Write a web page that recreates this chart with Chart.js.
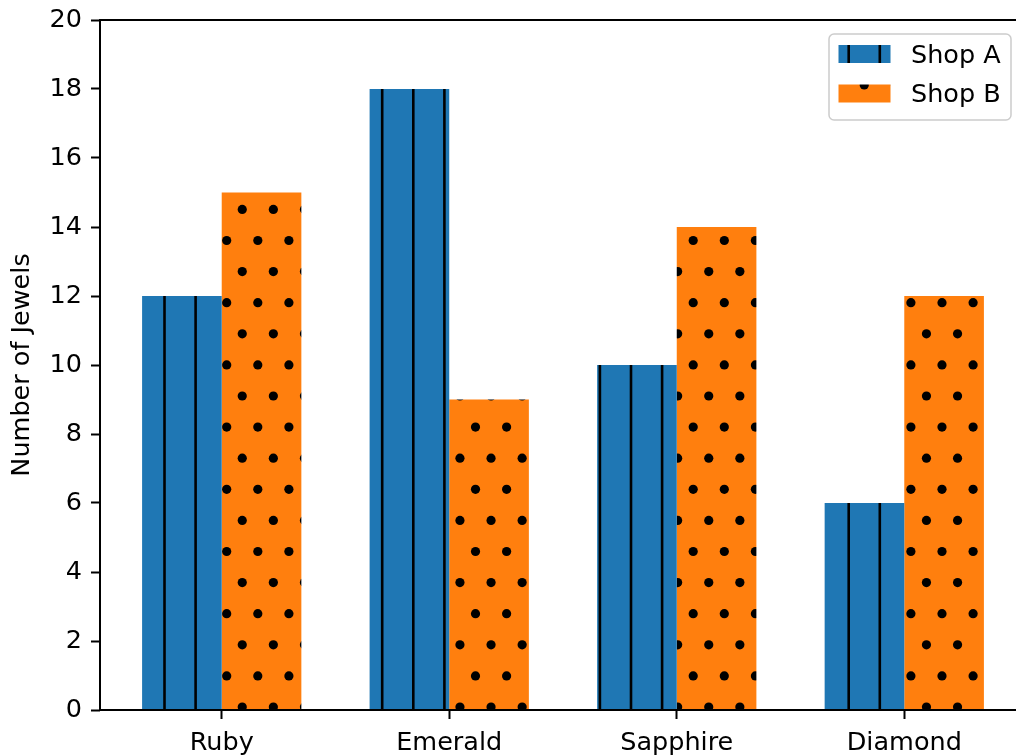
<!DOCTYPE html>
<html>
<head>
<meta charset="utf-8">
<script src="https://cdn.jsdelivr.net/npm/chart.js@4.4.1/dist/chart.umd.min.js"></script>
<style>
  body { margin: 0; background: #fff; }
  #wrap { width: 1016px; height: 756px; overflow: hidden; position: relative; }
  #myChart { position: absolute; left: 0; top: 0; }
</style>
</head>
<body>
<div id="wrap"><canvas id="myChart" width="1030" height="756"></canvas></div>
<script>
// data
const categories = ['Ruby', 'Emerald', 'Sapphire', 'Diamond'];
const seriesNames = ['Shop A', 'Shop B'];
const shopA = [12, 18, 10, 6];
const shopB = [15, 9, 14, 12];
const yTicks = [0, 2, 4, 6, 8, 10, 12, 14, 16, 18, 20];

const FONT = 'DejaVu Sans';
const FSIZE = 25.5;

// hatch tiles, 10 periods of 31.1px so the pattern lines up like matplotlib's
function makeHatch(color, kind) {
    const c = document.createElement('canvas');
    c.width = 311; c.height = 311;
    const g = c.getContext('2d');
    g.fillStyle = color;
    g.fillRect(0, 0, 311, 311);
    g.fillStyle = '#000';
    g.strokeStyle = '#000';
    if (kind === '|') {
        g.lineWidth = 2.6;
        for (let k = 0; k < 10; k++) {
            const x = 9 + k * 31.1;
            g.beginPath(); g.moveTo(x, 0); g.lineTo(x, 311); g.stroke();
        }
    } else {
        for (let j = 0; j < 5; j++) {
            for (let k = 0; k < 10; k++) {
                g.beginPath(); g.arc(9 + k * 31.1, 53.9 + j * 62.2, 4.6, 0, Math.PI * 2); g.fill();
                g.beginPath(); g.arc(24.55 + k * 31.1, 22.8 + j * 62.2, 4.6, 0, Math.PI * 2); g.fill();
            }
        }
    }
    return g.createPattern(c, 'repeat');
}

const ctx = document.querySelector('#myChart').getContext('2d');
const patA = makeHatch('#1f77b4', '|');
const patB = makeHatch('#ff7f0e', '.');

// spines on all four sides, like matplotlib
const spines = {
    id: 'spines',
    afterDatasetsDraw(chart) {
        const a = chart.chartArea, c = chart.ctx;
        c.save();
        c.strokeStyle = '#000';
        c.lineWidth = 2;
        c.strokeRect(a.left, a.top, a.right - a.left, a.bottom - a.top);
        c.restore();
    }
};

// legend box in the upper right corner
const legendBox = {
    id: 'legendBox',
    afterDraw(chart) {
        const a = chart.chartArea, c = chart.ctx;
        const w = 182, h = 86;
        const x = a.right - 15 - w, y = a.top + 14;
        c.save();
        c.beginPath();
        c.roundRect(x, y, w, h, 5);
        c.fillStyle = 'rgba(255,255,255,0.8)';
        c.fill();
        c.strokeStyle = '#cccccc';
        c.lineWidth = 1.5;
        c.stroke();
        chart.data.datasets.forEach(function(ds, i) {
            const cy = y + 20 + i * 39.5;
            c.fillStyle = ds.backgroundColor;
            c.fillRect(x + 9.5, cy - 9, 52, 18);
            c.fillStyle = '#000';
            c.font = FSIZE + 'px "' + FONT + '"';
            c.textBaseline = 'middle';
            c.textAlign = 'left';
            c.fillText(ds.label, x + 82, cy + 2);
        });
        c.restore();
    }
};

const chart = new Chart(ctx, {
    type: 'bar',
    data: {
        datasets: [
            {
                label: seriesNames[0],
                data: shopA.map((v, i) => ({ x: i, y: v })),
                backgroundColor: patA,
                borderWidth: 0
            },
            {
                label: seriesNames[1],
                data: shopB.map((v, i) => ({ x: i, y: v })),
                backgroundColor: patB,
                borderWidth: 0
            }
        ]
    },
    options: {
        responsive: false,
        animation: false,
        categoryPercentage: 0.7,
        barPercentage: 1.0,
        layout: { padding: { top: 20, right: 4, bottom: 0, left: 0 } },
        plugins: {
            legend: { display: false },
            tooltip: { enabled: false }
        },
        scales: {
            x: {
                type: 'linear',
                min: -0.535,
                max: 3.535,
                offset: false,
                afterBuildTicks: function(scale) {
                    scale.ticks = categories.map((c, i) => ({ value: i }));
                },
                afterFit: function(scale) {
                    scale.height = 46;
                    scale.paddingLeft = 0;
                    scale.paddingRight = 0;
                },
                ticks: {
                    callback: (v) => categories[v],
                    color: '#000',
                    padding: 9,
                    maxRotation: 0,
                    autoSkip: false,
                    font: { family: FONT, size: FSIZE }
                },
                grid: { offset: false, drawOnChartArea: false, tickLength: 9, tickWidth: 2, tickColor: '#000' },
                border: { display: false }
            },
            y: {
                min: 0,
                max: 20,
                afterBuildTicks: function(scale) {
                    scale.ticks = yTicks.map(v => ({ value: v }));
                },
                afterFit: function(scale) {
                    scale.width = 100;
                    scale.paddingTop = 0;
                    scale.paddingBottom = 0;
                },
                ticks: {
                    color: '#000',
                    padding: 9,
                    font: { family: FONT, size: FSIZE }
                },
                grid: { drawOnChartArea: false, tickLength: 9, tickWidth: 2, tickColor: '#000' },
                border: { display: false },
                title: {
                    display: true,
                    text: 'Number of Jewels',
                    color: '#000',
                    padding: { top: 7, bottom: 0 },
                    font: { family: FONT, size: FSIZE, lineHeight: 1.2 }
                }
            }
        }
    },
    plugins: [spines, legendBox]
});
</script>
</body>
</html>
